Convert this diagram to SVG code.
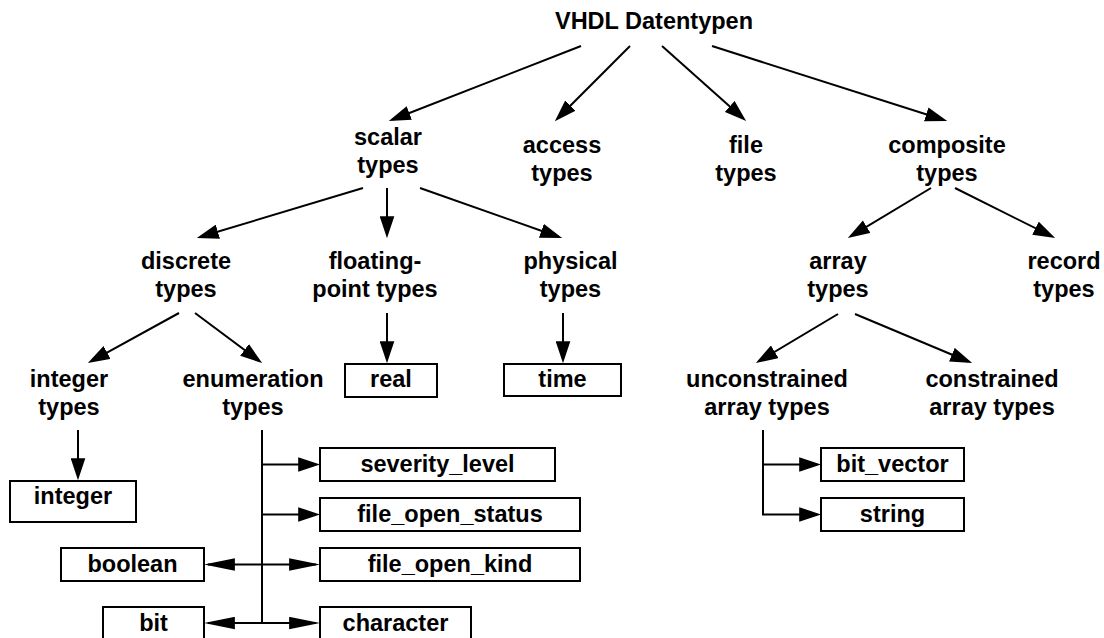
<svg xmlns="http://www.w3.org/2000/svg" width="1104" height="638" viewBox="0 0 1104 638">
<style>
text{font-family:"Liberation Sans",Arial,sans-serif;font-weight:bold;font-size:23.5px;fill:#000;text-anchor:middle}
.c{fill:none;stroke:#000;stroke-width:2}
.a{marker-end:url(#ah)}
.ad{marker-end:url(#ahl);marker-start:url(#ahl)}
.box{fill:#fff;stroke:#000;stroke-width:2}
</style>
<defs>
<marker id="ah" markerUnits="userSpaceOnUse" markerWidth="22" markerHeight="15" viewBox="0 0 21 14" refX="17" refY="7" orient="auto">
<path d="M0,0 L21,7 L0,14 z" fill="#000"/>
</marker>
<marker id="ahl" markerUnits="userSpaceOnUse" markerWidth="31" markerHeight="13" viewBox="0 0 30 12" refX="26" refY="6" orient="auto-start-reverse">
<path d="M0,0 L30,6 L0,12 z" fill="#000"/>
</marker>
</defs>
<rect width="1104" height="638" fill="#fff"/>
<g id="connectors">
<line class="c a" x1="581" y1="46" x2="392.7" y2="119.5"/>
<line class="c a" x1="630" y1="46" x2="557.8" y2="118.2"/>
<line class="c a" x1="662" y1="46" x2="743" y2="118.3"/>
<line class="c a" x1="712" y1="46" x2="943.2" y2="119.8"/>
<line class="c a" x1="363" y1="188" x2="200.8" y2="236.8"/>
<line class="c a" x1="387" y1="188" x2="387" y2="234"/>
<line class="c a" x1="420" y1="188" x2="558.2" y2="236.7"/>
<line class="c a" x1="931" y1="188" x2="851.4" y2="235.9"/>
<line class="c a" x1="955" y1="188" x2="1051.4" y2="236.2"/>
<line class="c a" x1="179" y1="313" x2="91.5" y2="361.1"/>
<line class="c a" x1="195" y1="313" x2="258.8" y2="360.6"/>
<line class="c a" x1="387" y1="313" x2="387" y2="359"/>
<line class="c a" x1="563" y1="313" x2="563" y2="359"/>
<line class="c a" x1="838" y1="314" x2="759.4" y2="360.9"/>
<line class="c a" x1="855" y1="314" x2="968.3" y2="361.5"/>
<line class="c a" x1="78" y1="430" x2="78" y2="476"/>
<line class="c" x1="262" y1="430" x2="262" y2="623"/>
<line class="c a" x1="262" y1="464.5" x2="316" y2="464.5"/>
<line class="c a" x1="262" y1="514.5" x2="316" y2="514.5"/>
<line class="c ad" x1="208" y1="564.5" x2="316" y2="564.5"/>
<line class="c ad" x1="208" y1="623" x2="316" y2="623"/>
<line class="c a" x1="763" y1="464.5" x2="817" y2="464.5"/>
<path class="c a" d="M763,430 V514.5 H817"/>
</g>
<g id="n-root"><text x="654" y="29">VHDL Datentypen</text></g>
<g id="n-scalar"><text x="388" y="145">scalar<tspan x="388" dy="28">types</tspan></text></g>
<g id="n-access"><text x="562" y="153">access<tspan x="562" dy="28">types</tspan></text></g>
<g id="n-file"><text x="746" y="153">file<tspan x="746" dy="28">types</tspan></text></g>
<g id="n-composite"><text x="947" y="153">composite<tspan x="947" dy="28">types</tspan></text></g>
<g id="n-discrete"><text x="186" y="269">discrete<tspan x="186" dy="28">types</tspan></text></g>
<g id="n-floating"><text x="375" y="269">floating-<tspan x="375" dy="28">point types</tspan></text></g>
<g id="n-physical"><text x="570.5" y="269">physical<tspan x="570.5" dy="28">types</tspan></text></g>
<g id="n-array"><text x="838" y="269">array<tspan x="838" dy="28">types</tspan></text></g>
<g id="n-record"><text x="1064" y="269">record<tspan x="1064" dy="28">types</tspan></text></g>
<g id="n-integertypes"><text x="69" y="387">integer<tspan x="69" dy="28">types</tspan></text></g>
<g id="n-enum"><text x="253" y="387">enumeration<tspan x="253" dy="28">types</tspan></text></g>
<g id="n-unconstrained"><text x="767" y="387">unconstrained<tspan x="767" dy="28">array types</tspan></text></g>
<g id="n-constrained"><text x="992" y="387">constrained<tspan x="992" dy="28">array types</tspan></text></g>
<g id="n-real"><rect class="box" x="345" y="364" width="92" height="33"/><text x="391" y="387">real</text></g>
<g id="n-time"><rect class="box" x="504" y="364" width="117" height="32"/><text x="562.5" y="387">time</text></g>
<g id="n-integer"><rect class="box" x="10" y="481" width="126" height="41"/><text x="73" y="504">integer</text></g>
<g id="n-severity"><rect class="box" x="320" y="448" width="235" height="33"/><text x="437.5" y="472">severity_level</text></g>
<g id="n-fos"><rect class="box" x="320" y="498" width="260" height="33"/><text x="450" y="522">file_open_status</text></g>
<g id="n-fok"><rect class="box" x="320" y="548" width="260" height="33"/><text x="450" y="572">file_open_kind</text></g>
<g id="n-character"><rect class="box" x="320" y="607" width="151" height="33"/><text x="395.5" y="631">character</text></g>
<g id="n-boolean"><rect class="box" x="61" y="548" width="143" height="33"/><text x="132.5" y="572">boolean</text></g>
<g id="n-bit"><rect class="box" x="103" y="607" width="101" height="33"/><text x="153.5" y="631">bit</text></g>
<g id="n-bitvector"><rect class="box" x="821" y="448" width="143" height="33"/><text x="892.5" y="472">bit_vector</text></g>
<g id="n-string"><rect class="box" x="821" y="498" width="143" height="33"/><text x="892.5" y="522">string</text></g>
</svg>
